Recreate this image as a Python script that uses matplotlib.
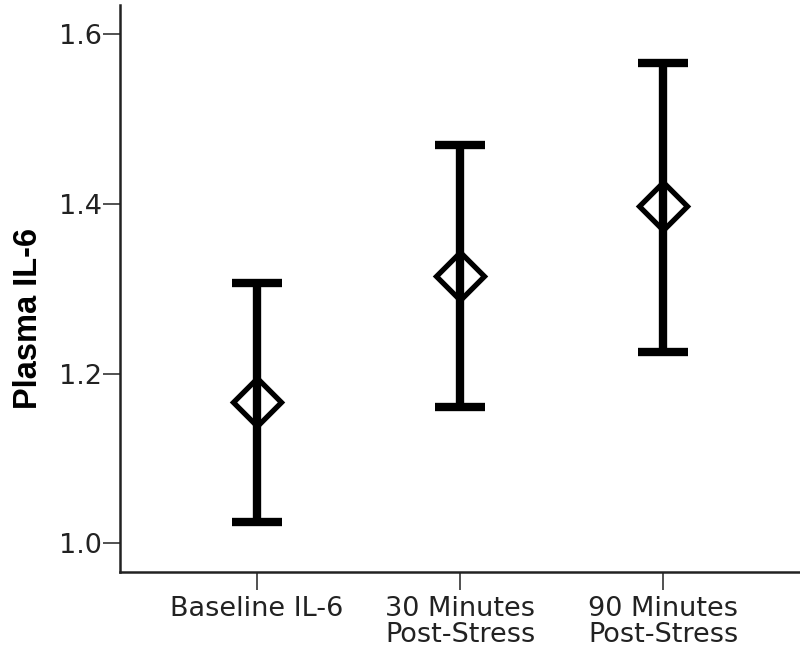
import numpy as np
import matplotlib
matplotlib.use("Agg")
import matplotlib.pyplot as plt

# condition labels and values (means with CI bounds)
conditions = ["Baseline IL-6", "30 Minutes\nPost-Stress", "90 Minutes\nPost-Stress"]
means = [1.167, 1.315, 1.397]
upper = [1.307, 1.470, 1.566]
lower = [1.025, 1.160, 1.226]
yticks = [1.0, 1.2, 1.4, 1.6]

x = np.arange(len(conditions))
means = np.array(means)
yerr = np.vstack([means - np.array(lower), np.array(upper) - means])

fig = plt.figure(figsize=(8, 6.49), dpi=100)
ax = fig.add_axes([0.15, 0.1186, 0.849, 0.873])

ax.errorbar(x, means, yerr=yerr, fmt="none", ecolor="black",
            elinewidth=6, capsize=18, capthick=6)
ax.plot(x, means, linestyle="none", marker="D", markersize=24,
        markerfacecolor="none", markeredgecolor="black", markeredgewidth=3.8)

ax.set_xlim(-0.675, 2.67)
ax.set_ylim(0.966, 1.634)
ax.set_xticks(x)
ax.set_xticklabels(conditions, fontsize=19.5, color="#222222", linespacing=1.0)
ax.set_yticks(yticks)
ax.set_yticklabels([f"{t:.1f}" for t in yticks], fontsize=19.5, color="#222222")
ax.tick_params(axis="both", direction="out", length=12, width=1.2, color="#333333", pad=1)
ax.tick_params(axis="x", length=13, pad=4)

ax.set_ylabel("Plasma IL-6", fontsize=23.5, fontweight="bold",
              family=["Liberation Sans Narrow", "Liberation Sans", "DejaVu Sans"])
ax.yaxis.set_label_coords(-0.112, 0.448)

for side in ["top", "right"]:
    ax.spines[side].set_visible(False)
for side in ["left", "bottom"]:
    ax.spines[side].set_linewidth(1.8)
    ax.spines[side].set_color("#222222")

fig.savefig("out.png", dpi=100)
